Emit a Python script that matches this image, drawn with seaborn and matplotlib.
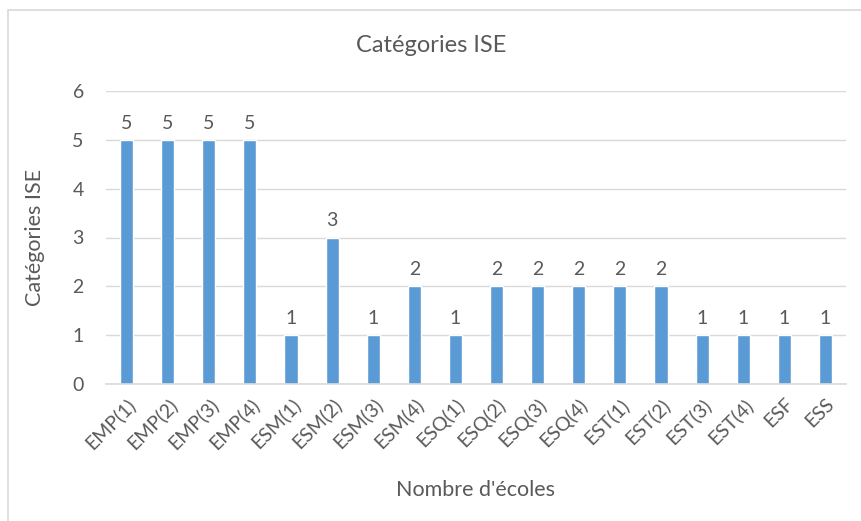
import pandas as pd
import seaborn as sns
import matplotlib.pyplot as plt
from matplotlib.patches import Rectangle

categories = ['EMP(1)', 'EMP(2)', 'EMP(3)', 'EMP(4)', 'ESM(1)', 'ESM(2)', 'ESM(3)', 'ESM(4)',
              'ESQ(1)', 'ESQ(2)', 'ESQ(3)', 'ESQ(4)', 'EST(1)', 'EST(2)', 'EST(3)', 'EST(4)',
              'ESF', 'ESS']
values = [5, 5, 5, 5, 1, 3, 1, 2, 1, 2, 2, 2, 2, 2, 1, 1, 1, 1]

df = pd.DataFrame({'cat': categories, 'val': values})

sns.set_theme(style="white")
plt.rcParams['font.family'] = ['Lato', 'DejaVu Sans']
txt = '#595959'

fig = plt.figure(figsize=(8.62, 5.21), dpi=100)
ax = fig.add_axes([106 / 862, 1 - 384 / 521, (846 - 106) / 862, (384 - 91) / 521])

sns.barplot(data=df, x='cat', y='val', color='#5B9BD5', saturation=1, width=0.32, ax=ax)

ax.set_ylim(0, 6)
ax.set_yticks(range(0, 7))
ax.yaxis.grid(True, color='#D9D9D9', linewidth=1)
ax.set_axisbelow(True)
for s in ['top', 'right', 'left']:
    ax.spines[s].set_visible(False)
ax.spines['bottom'].set_color('#D9D9D9')
ax.spines['bottom'].set_linewidth(1.2)
ax.tick_params(axis='both', length=0, colors=txt, labelsize=14)
ax.tick_params(axis='y', pad=16)
ax.set_xticks(range(len(categories)))
ax.set_xticklabels(categories, rotation=45, ha='right', rotation_mode='anchor')
ax.tick_params(axis='x', pad=8)

for i, v in enumerate(values):
    ax.annotate(str(v), (i, v), xytext=(0, 6), textcoords='offset points',
                ha='center', va='bottom', color=txt, fontsize=14)

ax.set_xlabel("Nombre d'écoles", color=txt, fontsize=15.5, labelpad=20)
ax.set_ylabel('Catégories ISE', color=txt, fontsize=15.5, labelpad=20)
fig.text(0.5, 1 - 45 / 521, 'Catégories ISE', ha='center', va='center', color=txt, fontsize=17)

fig.patches.append(Rectangle((8 / 862, -0.1), 1.2, 1 - 10 / 521 + 0.1, transform=fig.transFigure,
                             fill=False, edgecolor='#D9D9D9', linewidth=1.2))

plt.savefig('out.png', dpi=100)
